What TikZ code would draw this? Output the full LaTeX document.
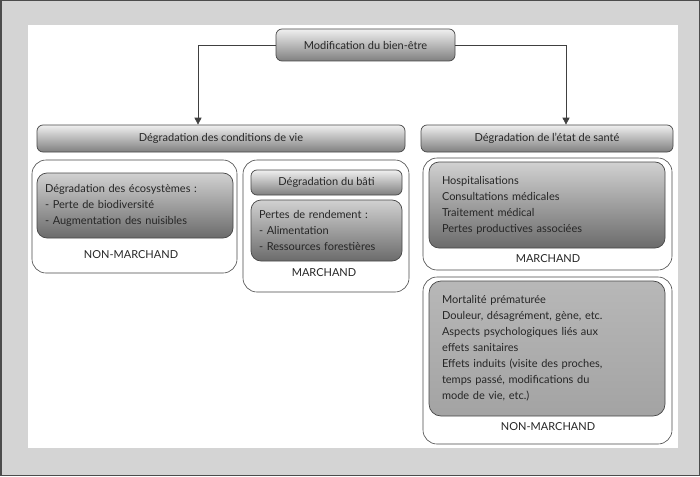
\documentclass[tikz,border=0pt]{standalone}
\usepackage{fontspec}
\setmainfont{Lato}
\usetikzlibrary{arrows.meta}
\begin{document}
\begin{tikzpicture}[x=1pt,y=-1pt,
  every node/.style={font=\fontsize{11}{16}\selectfont, text=black!85},
  hbox/.style={draw=black!72, line width=0.7pt, rounded corners=6pt, top color=black!6, bottom color=black!50, inner sep=0pt},
  cbox/.style={draw=black!72, line width=0.7pt, rounded corners=10pt, top color=black!18, bottom color=black!58, align=left},
  nbox/.style={draw=black!72, line width=0.7pt, rounded corners=12pt, top color=black!28, bottom color=black!36, align=left},
  wbox/.style={draw=black!72, line width=0.6pt, rounded corners=14pt, fill=white, inner sep=0pt},
  lbl/.style={inner sep=0pt},
  conn/.style={draw=black!75, line width=0.7pt, -{Triangle[width=7pt,length=7pt]}}
]
\useasboundingbox (0,0) rectangle (700,476);
\fill[black!17] (0,0) rectangle (700,476);
\draw[black!70, line width=1.5pt] (0.75,0.75) rectangle (699.25,475.25);
\fill[white] (28,25) rectangle (678,448);

% top and headers
\node[hbox, minimum width=179pt, minimum height=32pt] (top) at (365.5,45) {Modification du bien-être};
\node[hbox, minimum width=368pt, minimum height=27pt] (cv) at (221,138.5) {Dégradation des conditions de vie};
\node[hbox, minimum width=252pt, minimum height=27pt] (es) at (547,138.5) {Dégradation de l’état de santé};

\draw[conn] (top.west) -| ([xshift=-23pt]cv.north);
\draw[conn] (top.east) -| ([xshift=19pt]es.north);

% left group
\node[wbox, minimum width=205pt, minimum height=113pt] (wa) at (134.5,216.5) {};
\node[cbox, minimum width=196pt, minimum height=65pt, text width=180pt, inner xsep=8pt, inner ysep=0pt] (eco) at (135,205.5)
  {Dégradation des écosystèmes :\\- Perte de biodiversité\\- Augmentation des nuisibles};
\node[lbl] (nma) at (131,255) {NON-MARCHAND};

% middle group
\node[wbox, minimum width=166pt, minimum height=132pt] (wb) at (326,226) {};
\node[hbox, minimum width=151pt, minimum height=25pt] (bati) at (326.5,182.5) {Dégradation du bâti};
\node[cbox, minimum width=151pt, minimum height=61pt, text width=135pt, inner xsep=8pt, inner ysep=0pt] (rend) at (326.5,230.5)
  {Pertes de rendement :\\- Alimentation\\- Ressources forestières};
\node[lbl] (mb) at (324,273) {MARCHAND};

% right group 1
\node[wbox, minimum width=249pt, minimum height=112pt] (wc) at (547.5,214) {};
\node[cbox, minimum width=236pt, minimum height=86pt, text width=210pt, inner xsep=13pt, inner ysep=0pt] (hosp) at (547,205)
  {Hospitalisations\\Consultations médicales\\Traitement médical\\Pertes productives associées};
\node[lbl] (mc) at (548,259) {MARCHAND};

% right group 2
\node[wbox, minimum width=249pt, minimum height=167pt] (wd) at (547.5,360.5) {};
\node[nbox, minimum width=236pt, minimum height=135pt, text width=210pt, inner xsep=13pt, inner ysep=0pt] (mort) at (547,348.5)
  {Mortalité prématurée\\Douleur, désagrément, gène, etc.\\Aspects psychologiques liés aux\\effets sanitaires\\Effets induits (visite des proches,\\temps passé, modifications du\\mode de vie, etc.)};
\node[lbl] (nmd) at (548,427) {NON-MARCHAND};
\end{tikzpicture}
\end{document}
